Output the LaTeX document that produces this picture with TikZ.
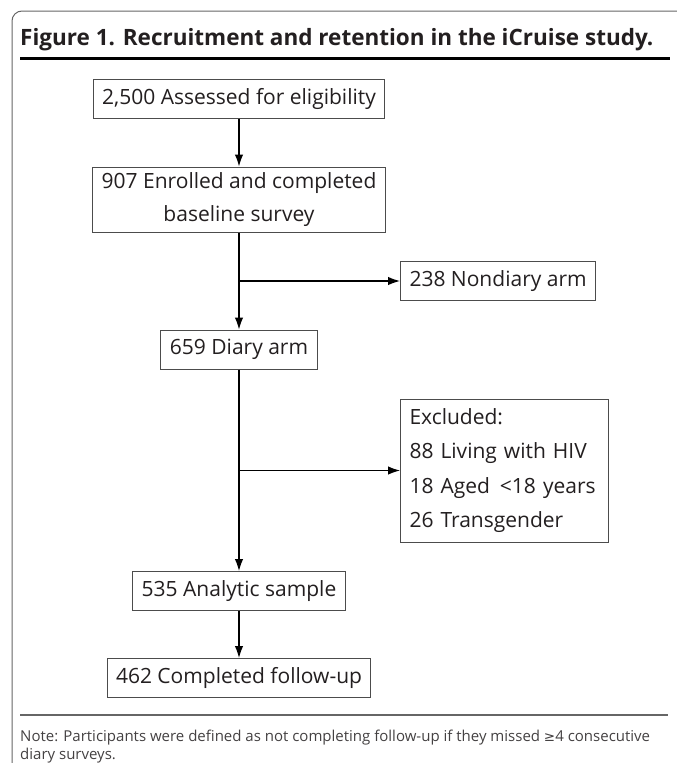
\documentclass[tikz,border=0pt]{standalone}
\usepackage{fontspec}
\setmainfont{Open Sans}
\newfontfamily\symfont{DejaVu Sans}
\usetikzlibrary{arrows.meta,positioning}
\definecolor{rulegray}{gray}{0.4}
\definecolor{boxedge}{gray}{0.3}
\definecolor{inktext}{HTML}{231F20}
\tikzset{
  stagebox/.style={draw=boxedge, line width=1pt, fill=white, text=inktext,
    inner xsep=9pt, inner ysep=0pt, minimum height=39pt, align=center,
    font=\fontsize{21}{33}\selectfont},
  flowarrow/.style={-{Latex[length=12pt,width=8.5pt]}, line width=1.2pt},
}
\begin{document}
\begin{tikzpicture}[x=1pt, y=-1pt]
  \useasboundingbox (0,0) rectangle (677,763);
  % frame and rules
  \draw[rulegray, line width=1pt, rounded corners=10pt] (12,763) -- (12,11) -- (677,11);
  \node[anchor=base west, inner sep=0pt, text=inktext,
    font=\bfseries\fontsize{22.5}{25}\selectfont] (title) at (20,45)
    {Figure 1. Recruitment and retention in the iCruise study.};
  \draw[line width=3pt] (20,58) -- (670,58);
  % boxes
  \node[stagebox] (assess) at (239,98.5) {2,500 Assessed for eligibility};
  \node[stagebox, minimum height=65pt] (enrol) at (239,199.5)
    {907 Enrolled and completed\\baseline survey};
  \node[stagebox, anchor=west] (nondiary) at (400,281) {238 Nondiary arm};
  \node[stagebox] (diary) at (239,349.5) {659 Diary arm};
  \node[stagebox, anchor=west, align=left, text width=190pt,
    font=\fontsize{21}{34.5}\selectfont, minimum height=143pt] (excl) at (400,470.5)
    {Excluded:\\88 Living with HIV\\18 Aged \kern3pt<18 years\\26 Transgender};
  \node[stagebox] (analytic) at (239,591) {535 Analytic sample};
  \node[stagebox] (followup) at (239,678) {462 Completed follow-up};
  % connectors
  \draw[flowarrow] (assess) -- (enrol);
  \draw[flowarrow] (enrol) -- (diary);
  \coordinate (armsplit) at (enrol.south |- nondiary.west);
  \draw[flowarrow] (armsplit) -- (nondiary);
  \draw[flowarrow] (diary) -- (analytic);
  \coordinate (exclsplit) at (diary.south |- excl.west);
  \draw[flowarrow] (exclsplit) -- (excl);
  \draw[flowarrow] (analytic) -- (followup);
  % note
  \draw[rulegray, line width=2pt] (20,715) -- (668,715);
  \node[anchor=base west, inner sep=0pt, align=left, text=inktext!85,
    font=\fontsize{15}{18}\selectfont] (note) at (20,759)
    {Note: Participants were defined as not completing follow-up if they missed {\symfont\fontsize{13.5}{18}\selectfont≥}4 consecutive\\diary surveys.};
\end{tikzpicture}
\end{document}
